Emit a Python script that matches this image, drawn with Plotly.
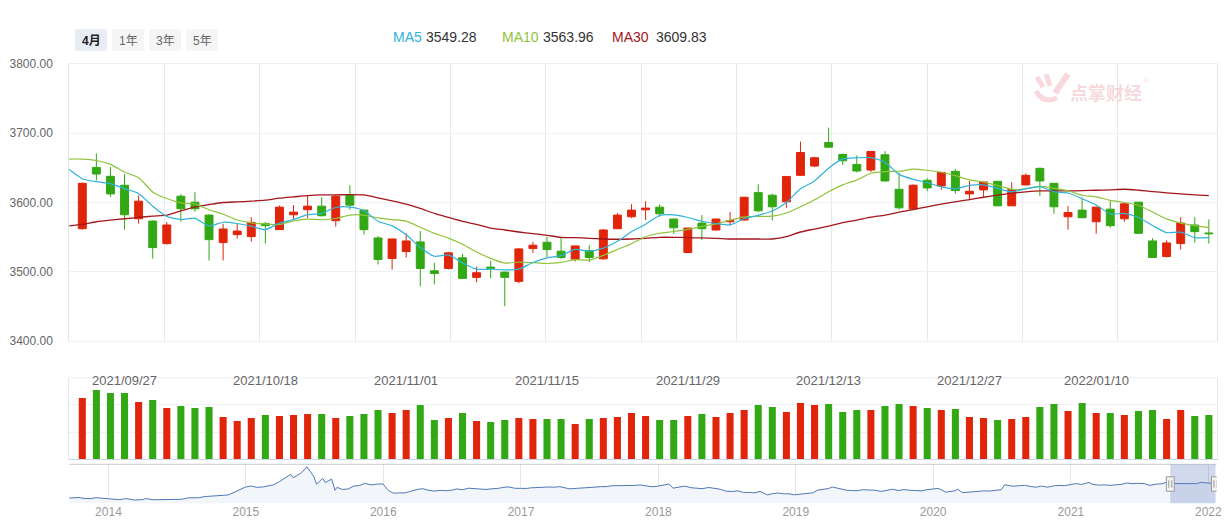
import plotly.graph_objects as go

W, H = 1227, 524

# ---------------- data ----------------
dates = [
    "2021/09/22", "2021/09/23", "2021/09/24", "2021/09/27", "2021/09/28", "2021/09/29", "2021/09/30",
    "2021/10/08", "2021/10/11", "2021/10/12", "2021/10/13", "2021/10/14", "2021/10/15",
    "2021/10/18", "2021/10/19", "2021/10/20", "2021/10/21", "2021/10/22",
    "2021/10/25", "2021/10/26", "2021/10/27", "2021/10/28", "2021/10/29",
    "2021/11/01", "2021/11/02", "2021/11/03", "2021/11/04", "2021/11/05",
    "2021/11/08", "2021/11/09", "2021/11/10", "2021/11/11", "2021/11/12",
    "2021/11/15", "2021/11/16", "2021/11/17", "2021/11/18", "2021/11/19",
    "2021/11/22", "2021/11/23", "2021/11/24", "2021/11/25", "2021/11/26",
    "2021/11/29", "2021/11/30", "2021/12/01", "2021/12/02", "2021/12/03",
    "2021/12/06", "2021/12/07", "2021/12/08", "2021/12/09", "2021/12/10",
    "2021/12/13", "2021/12/14", "2021/12/15", "2021/12/16", "2021/12/17",
    "2021/12/20", "2021/12/21", "2021/12/22", "2021/12/23", "2021/12/24",
    "2021/12/27", "2021/12/28", "2021/12/29", "2021/12/30", "2021/12/31",
    "2022/01/04", "2022/01/05", "2022/01/06", "2022/01/07",
    "2022/01/10", "2022/01/11", "2022/01/12", "2022/01/13", "2022/01/14",
    "2022/01/17", "2022/01/18", "2022/01/19", "2022/01/20",
]

opens = [3562.2, 3650.7, 3637.8, 3624.9, 3576.5, 3573.2, 3540.7, 3609.1, 3600.5, 3581.8,
         3542.1, 3553.6, 3550.7, 3569.8, 3560.8, 3582.3, 3589.5, 3594.7, 3573.7, 3611.0,
         3589.0, 3548.8, 3519.1, 3529.2, 3543.1, 3501.4, 3504.8, 3520.1, 3491.9, 3506.7,
         3499.5, 3486.1, 3533.5, 3542.6, 3529.7, 3518.2, 3530.6, 3518.6, 3562.2, 3579.4,
         3589.5, 3593.3, 3576.1, 3527.7, 3570.3, 3560.3, 3572.2, 3574.6, 3614.3, 3610.5,
         3601.0, 3639.2, 3652.6, 3686.6, 3669.4, 3655.0, 3646.9, 3668.9, 3619.1, 3590.9,
         3632.1, 3623.9, 3645.0, 3612.4, 3618.2, 3630.6, 3595.2, 3625.4, 3649.3, 3627.7,
         3579.4, 3589.0, 3572.2, 3590.4, 3576.5, 3600.5, 3544.5, 3522.0, 3540.7, 3567.5,
         3556.0]
highs = [3628.7, 3670.8, 3651.2, 3641.1, 3610.5, 3574.2, 3571.8, 3612.0, 3614.8, 3582.8,
         3568.9, 3569.8, 3578.9, 3571.8, 3595.7, 3596.2, 3610.5, 3607.7, 3611.5, 3624.9,
         3589.5, 3551.7, 3547.6, 3555.5, 3558.8, 3512.9, 3528.7, 3525.8, 3507.2, 3515.8,
         3499.8, 3534.4, 3543.1, 3550.2, 3549.3, 3537.7, 3538.3, 3561.7, 3584.7, 3597.6,
         3601.9, 3597.6, 3576.5, 3563.6, 3581.8, 3576.5, 3586.1, 3608.1, 3626.3, 3612.9,
         3637.8, 3688.0, 3666.0, 3708.1, 3670.8, 3668.0, 3674.2, 3674.2, 3643.1, 3626.3,
         3634.9, 3644.0, 3648.3, 3631.1, 3630.1, 3630.8, 3629.2, 3642.1, 3650.7, 3628.2,
         3594.7, 3607.2, 3593.8, 3601.9, 3599.5, 3600.8, 3548.3, 3545.4, 3578.9, 3578.9,
         3575.6]
lows = [3560.8, 3632.1, 3608.1, 3560.8, 3569.4, 3519.1, 3539.0, 3572.2, 3586.6, 3516.3,
        3516.3, 3547.8, 3543.5, 3540.7, 3560.3, 3575.6, 3577.5, 3579.9, 3565.1, 3589.5,
        3553.6, 3510.5, 3502.9, 3520.6, 3478.9, 3481.8, 3503.3, 3489.5, 3484.7, 3490.4,
        3450.2, 3483.2, 3527.3, 3521.5, 3518.6, 3514.8, 3513.9, 3517.7, 3561.7, 3577.5,
        3574.6, 3579.4, 3555.0, 3527.3, 3545.9, 3559.3, 3566.5, 3573.7, 3586.1, 3573.7,
        3592.3, 3638.3, 3651.2, 3678.9, 3654.1, 3643.5, 3644.0, 3630.6, 3589.9, 3589.9,
        3616.7, 3618.2, 3612.9, 3603.3, 3607.6, 3594.7, 3594.9, 3624.9, 3609.6, 3583.7,
        3560.8, 3577.5, 3555.0, 3563.6, 3572.2, 3555.0, 3520.1, 3520.6, 3532.0, 3542.1,
        3540.7]
closes = [3627.7, 3641.1, 3612.4, 3582.3, 3601.9, 3534.9, 3567.5, 3590.9, 3590.9, 3546.4,
          3561.7, 3558.8, 3571.3, 3566.5, 3593.3, 3586.1, 3594.7, 3580.9, 3609.1, 3596.2,
          3560.8, 3517.7, 3547.4, 3544.5, 3504.8, 3497.6, 3527.3, 3490.4, 3498.6, 3504.8,
          3491.9, 3533.0, 3538.3, 3532.0, 3520.6, 3537.3, 3520.6, 3560.3, 3581.8, 3589.0,
          3591.9, 3583.7, 3563.6, 3563.1, 3562.2, 3576.1, 3573.7, 3607.6, 3588.0, 3593.8,
          3637.6, 3672.2, 3664.6, 3679.9, 3660.3, 3645.5, 3673.7, 3631.1, 3592.3, 3624.9,
          3621.0, 3643.5, 3617.2, 3616.3, 3629.7, 3595.2, 3618.7, 3639.2, 3631.1, 3593.8,
          3585.6, 3578.0, 3593.3, 3566.5, 3598.1, 3555.5, 3520.6, 3541.6, 3570.3, 3557.9,
          3555.0]

# volume (relative units)
volumes = [61.3, 69.3, 66.3, 66.3, 57.3, 59.3, 51.3, 53.3, 51.3, 52.3,
           42.3, 38.3, 41.3, 44.3, 43.3, 44.3, 45.3, 45.3, 41.3, 43.3,
           45.3, 49.3, 46.3, 49.3, 54.3, 39.3, 41.3, 46.3, 38.3, 37.3,
           39.3, 41.3, 40.3, 40.3, 40.3, 35.3, 40.3, 41.3, 42.3, 46.3,
           43.3, 39.3, 39.3, 43.3, 45.3, 42.3, 46.3, 49.3, 54.3, 52.3,
           47.3, 56.3, 54.3, 55.3, 47.3, 49.3, 49.3, 53.3, 55.3, 53.3,
           51.3, 49.3, 50.3, 42.3, 41.3, 39.3, 40.3, 42.3, 52.3, 55.3,
           48.3, 56.3, 46.3, 46.3, 44.3, 48.3, 49.3, 40.3, 49.3, 43.3,
           44.3]

# moving averages: first value belongs to the session before the first candle
ma_prev_date = "2021/09/17"
ma5 = [3648.8, 3634.4, 3630.1, 3627.3, 3620.1, 3613.1, 3594.5, 3579.8, 3575.5, 3577.2,
       3566.1, 3571.5, 3569.7, 3565.8, 3560.9, 3570.3, 3575.2, 3582.4, 3584.3, 3592.8,
       3593.4, 3588.3, 3572.9, 3566.2, 3553.3, 3535.0, 3522.4, 3524.3, 3512.9, 3503.7,
       3503.7, 3502.6, 3503.7, 3513.3, 3520.0, 3523.2, 3532.2, 3529.8, 3534.2, 3544.1,
       3557.8, 3568.7, 3581.3, 3582.0, 3578.3, 3572.9, 3569.7, 3567.7, 3576.5, 3581.5,
       3587.8, 3600.1, 3619.8, 3631.2, 3649.6, 3662.9, 3664.5, 3664.8, 3658.1, 3640.6,
       3633.5, 3628.6, 3622.6, 3619.8, 3624.6, 3625.5, 3620.4, 3615.4, 3619.8, 3622.8,
       3615.6, 3613.7, 3605.5, 3596.4, 3583.4, 3584.3, 3578.3, 3566.8, 3556.5, 3557.2,
       3549.2, 3549.28]
ma10 = [3662.7, 3662.7, 3660.7, 3655.0, 3644.0, 3635.9, 3615.3, 3605.7, 3599.5, 3597.6,
        3589.6, 3583.0, 3574.8, 3570.7, 3569.1, 3568.2, 3573.3, 3576.1, 3575.1, 3576.9,
        3581.9, 3581.8, 3577.7, 3575.3, 3573.1, 3564.2, 3555.4, 3548.6, 3539.6, 3528.5,
        3519.4, 3512.5, 3514.0, 3513.1, 3511.9, 3513.5, 3517.4, 3516.8, 3523.7, 3532.1,
        3540.5, 3550.5, 3555.6, 3558.1, 3561.2, 3565.4, 3569.2, 3574.5, 3579.3, 3579.9,
        3580.4, 3584.9, 3593.8, 3603.9, 3615.6, 3625.4, 3632.3, 3642.3, 3644.7, 3645.1,
        3648.2, 3646.6, 3643.7, 3638.9, 3632.6, 3629.5, 3624.5, 3619.0, 3619.8, 3623.7,
        3620.6, 3617.0, 3610.5, 3608.1, 3603.1, 3600.0, 3596.0, 3586.2, 3576.4, 3570.3,
        3566.7, 3563.96]
ma30 = [3566.0, 3568.4, 3572.2, 3574.6, 3576.5, 3578.4, 3580.4, 3581.8, 3588.0, 3593.8,
        3597.1, 3600.0, 3600.9, 3601.9, 3603.3, 3606.2, 3608.1, 3610.0, 3611.0, 3611.0,
        3611.5, 3611.0, 3606.7, 3602.4, 3597.6, 3591.4, 3584.2, 3578.4, 3572.7, 3568.4,
        3563.1, 3560.3, 3557.4, 3555.0, 3552.6, 3549.7, 3549.3, 3548.3, 3547.3, 3546.9,
        3547.3, 3548.3, 3549.7, 3549.7, 3549.3, 3548.8, 3548.3, 3547.3, 3547.3, 3547.3,
        3547.3, 3550.7, 3557.4, 3561.7, 3566.0, 3570.8, 3574.6, 3578.9, 3581.8, 3586.1,
        3589.9, 3593.8, 3597.6, 3601.0, 3604.3, 3607.6, 3610.5, 3613.4, 3615.3, 3616.7,
        3616.7, 3616.7, 3617.2, 3617.7, 3618.2, 3619.1, 3617.7, 3615.8, 3613.9, 3612.4,
        3611.0, 3609.83]

vol_label_dates = ["2021/09/27", "2021/10/18", "2021/11/01", "2021/11/15",
                   "2021/11/29", "2021/12/13", "2021/12/27", "2022/01/10"]
price_ticks = [3400, 3500, 3600, 3700, 3800]
range_tabs = ["4月", "1年", "3年", "5年"]
ma_names = ["MA5", "MA10", "MA30"]
watermark_text = "点掌财经"

# navigator (long history of the index)
nav_dates = [
    "2013-09-18", "2013-10-15", "2013-10-31", "2013-11-15", "2013-11-29", "2013-12-16", "2013-12-31",
    "2014-01-15", "2014-01-30", "2014-02-17", "2014-02-28", "2014-03-11", "2014-03-31", "2014-04-10", "2014-04-30",
    "2014-05-15", "2014-05-30", "2014-06-16", "2014-06-30", "2014-07-15", "2014-07-31", "2014-08-15", "2014-08-29",
    "2014-09-15", "2014-09-30", "2014-10-15", "2014-10-31", "2014-11-14", "2014-11-28", "2014-12-09", "2014-12-31",
    "2015-01-15", "2015-01-30", "2015-02-16", "2015-02-27", "2015-03-16", "2015-03-31", "2015-04-15", "2015-04-30",
    "2015-05-07", "2015-05-29", "2015-06-12", "2015-06-30", "2015-07-08", "2015-07-24", "2015-07-31", "2015-08-17",
    "2015-08-26", "2015-08-31", "2015-09-15", "2015-09-30", "2015-10-15", "2015-10-30", "2015-11-13", "2015-11-30",
    "2015-12-15", "2015-12-31",
    "2016-01-15", "2016-01-28", "2016-02-29", "2016-03-15", "2016-03-31", "2016-04-15", "2016-04-29", "2016-05-16",
    "2016-05-31", "2016-06-15", "2016-06-30", "2016-07-15", "2016-07-29", "2016-08-15", "2016-08-31", "2016-09-15",
    "2016-09-30", "2016-10-14", "2016-10-31", "2016-11-15", "2016-11-30", "2016-12-15", "2016-12-30",
    "2017-01-16", "2017-01-26", "2017-02-15", "2017-02-28", "2017-03-15", "2017-03-31", "2017-04-14", "2017-04-28",
    "2017-05-11", "2017-05-31", "2017-06-15", "2017-06-30", "2017-07-14", "2017-07-31", "2017-08-15", "2017-08-31",
    "2017-09-15", "2017-09-29", "2017-10-16", "2017-10-31", "2017-11-14", "2017-11-30", "2017-12-15", "2017-12-29",
    "2018-01-15", "2018-01-29", "2018-02-09", "2018-02-28", "2018-03-12", "2018-03-30", "2018-04-16", "2018-04-27",
    "2018-05-15", "2018-05-31", "2018-06-15", "2018-06-29", "2018-07-16", "2018-07-31", "2018-08-15", "2018-08-31",
    "2018-09-14", "2018-09-28", "2018-10-18", "2018-10-31", "2018-11-15", "2018-11-30", "2018-12-14", "2018-12-28",
    "2019-01-15", "2019-01-31", "2019-02-15", "2019-02-28", "2019-03-15", "2019-03-29", "2019-04-08", "2019-04-30",
    "2019-05-15", "2019-05-31", "2019-06-14", "2019-06-28", "2019-07-15", "2019-07-31", "2019-08-15", "2019-08-30",
    "2019-09-16", "2019-09-30", "2019-10-15", "2019-10-31", "2019-11-15", "2019-11-29", "2019-12-16", "2019-12-31",
    "2020-01-14", "2020-01-23", "2020-02-03", "2020-02-28", "2020-03-06", "2020-03-19", "2020-03-31", "2020-04-15",
    "2020-04-30", "2020-05-15", "2020-05-29", "2020-06-15", "2020-06-30", "2020-07-09", "2020-07-31", "2020-08-14",
    "2020-08-31", "2020-09-15", "2020-09-30", "2020-10-15", "2020-10-30", "2020-11-16", "2020-11-30", "2020-12-15",
    "2020-12-31",
    "2021-01-15", "2021-01-29", "2021-02-18", "2021-02-26", "2021-03-15", "2021-03-31", "2021-04-15", "2021-04-30",
    "2021-05-14", "2021-05-31", "2021-06-15", "2021-06-30", "2021-07-15", "2021-07-30", "2021-08-16", "2021-08-31",
    "2021-09-13", "2021-09-30", "2021-10-15", "2021-10-29", "2021-11-15", "2021-11-30", "2021-12-13", "2021-12-31",
    "2022-01-10", "2022-01-20",
]
nav_values = [
    2191, 2233, 2141, 2135, 2220, 2161, 2116,
    2023, 2033, 2135, 2056, 1999, 2033, 2134, 2026, 2025, 2039, 2066, 2048, 2067, 2202, 2226, 2217,
    2331, 2364, 2373, 2420, 2478, 2683, 2856, 3235,
    3336, 3210, 3247, 3310, 3449, 3748, 4084, 4442, 4112, 4612, 5166, 4277, 3507, 4070, 3664, 3994,
    2927, 3206, 3005, 3053, 3338, 3383, 3580, 3445, 3510, 3539,
    2900, 2656, 2688, 2864, 3004, 3078, 2938, 2850, 2917, 2887, 2930, 3054, 2979, 3125, 3085, 3002,
    3005, 3064, 3100, 3207, 3250, 3118, 3104,
    3103, 3159, 3213, 3242, 3241, 3223, 3276, 3155, 3062, 3117, 3132, 3192, 3222, 3273, 3276, 3361,
    3353, 3349, 3378, 3393, 3430, 3317, 3266, 3307,
    3410, 3523, 3129, 3259, 3326, 3169, 3111, 3082, 3192, 3095, 3022, 2847, 2814, 2876, 2723, 2725,
    2682, 2821, 2486, 2603, 2668, 2588, 2594, 2494,
    2570, 2585, 2682, 2941, 3021, 3091, 3244, 3078, 2939, 2899, 2882, 2979, 2942, 2932, 2815, 2886,
    3031, 2905, 2991, 2929, 2891, 2872, 2984, 3050,
    3106, 2976, 2746, 2880, 3034, 2702, 2750, 2811, 2860, 2868, 2852, 2891, 2985, 3451, 3310, 3360,
    3396, 3295, 3218, 3332, 3225, 3347, 3392, 3367, 3473,
    3566, 3483, 3675, 3509, 3419, 3442, 3399, 3447, 3490, 3615, 3557, 3591, 3565, 3397, 3517, 3544,
    3715, 3568, 3572, 3547, 3533, 3564, 3681, 3640, 3594, 3555,
]

assert len(opens) == len(highs) == len(lows) == len(closes) == len(volumes) == len(dates)
assert len(ma5) == len(ma10) == len(ma30) == len(dates) + 1
assert len(nav_dates) == len(nav_values)

# ---------------- styling ----------------
RED = "#e0250b"
GREEN = "#32a814"
C_MA5 = "#2fb3d9"
C_MA10 = "#8fc43a"
C_MA30 = "#a3161c"
FONT = "Liberation Sans, Arial, Noto Sans CJK SC, sans-serif"


def fx(x):
    return x / W


def fy(y):
    return 1 - y / H


X_DOM = [fx(69.3), fx(1216.6)]
idx = list(range(len(dates)))
ma_idx = [-1] + idx
x_range = [-0.923, 80.55]
grid_step = 6.768
grid_vals = [x_range[0] + grid_step * k for k in range(12)]
vol_colors = [RED if c >= o else GREEN for o, c in zip(opens, closes)]
iso = lambda d: d.replace("/", "-")

fig = go.Figure()

fig.add_trace(go.Candlestick(
    x=idx, open=opens, high=highs, low=lows, close=closes,
    increasing=dict(line=dict(color=RED, width=1), fillcolor=RED),
    decreasing=dict(line=dict(color=GREEN, width=1), fillcolor=GREEN),
    whiskerwidth=0, xaxis="x", yaxis="y", hoverinfo="skip", name="K",
))
for name, vals, col, w in [("MA30", ma30, C_MA30, 1.3), ("MA10", ma10, C_MA10, 1.2), ("MA5", ma5, C_MA5, 1.2)]:
    fig.add_trace(go.Scatter(
        x=ma_idx, y=vals, mode="lines", name=name,
        line=dict(color=col, width=w, shape="spline", smoothing=0.6),
        xaxis="x", yaxis="y", hoverinfo="skip",
    ))

fig.add_trace(go.Bar(
    x=idx, y=volumes, marker=dict(color=vol_colors, line=dict(width=0)),
    width=0.5, xaxis="x2", yaxis="y2", hoverinfo="skip", name="VOL",
))

fig.add_trace(go.Scatter(
    x=nav_dates, y=nav_values, mode="lines", fill="tozeroy",
    fillcolor="#f2f5fa", line=dict(color="#4f78b5", width=1),
    xaxis="x3", yaxis="y3", hoverinfo="skip", name="nav",
))

fig.update_layout(
    template="none",
    width=W, height=H, margin=dict(l=0, r=0, t=0, b=0, pad=0), autosize=False,
    paper_bgcolor="white", plot_bgcolor="white", showlegend=False,
    font=dict(family=FONT, color="#666"),
    boxgap=0.25, boxgroupgap=0.25, bargap=0.5,
    xaxis=dict(domain=X_DOM, anchor="y", range=x_range, rangeslider=dict(visible=False),
               tickvals=grid_vals, showgrid=True, gridcolor="#e4e9f0", gridwidth=1,
               showticklabels=False, ticks="", zeroline=False, automargin=False,
               showline=True, mirror=True, linecolor="#edf0f5"),
    yaxis=dict(domain=[fy(341), fy(64)], anchor="x", range=[3400, 3800],
               tickvals=price_ticks, tickformat=".2f", ticks="", ticklen=0,
               ticklabelstandoff=13, tickfont=dict(size=12, color="#666"),
               showgrid=True, gridcolor="#eef1f6", zeroline=False, automargin=False,
               showline=True, mirror=True, linecolor="#dfe5ee"),
    xaxis2=dict(domain=X_DOM, anchor="y2", range=x_range, showticklabels=False, showgrid=False,
                ticks="", zeroline=False, showline=True, linecolor="#ccd6eb", automargin=False),
    yaxis2=dict(domain=[fy(459.3), fy(377.7)], anchor="x2", range=[0, 81.6], tick0=0, dtick=27.2,
                showticklabels=False, ticks="", showgrid=True, gridcolor="#eef1f6", zeroline=False,
                showline=True, mirror=True, linecolor="#e3e8ef", automargin=False),
    xaxis3=dict(domain=X_DOM, anchor="y3", type="date", range=["2013-09-19", "2022-01-23"],
                tick0="2014-01-01", dtick="M12", tickformat="%Y", ticks="", ticklen=0,
                ticklabelstandoff=0, tickfont=dict(size=12, color="#999"),
                showgrid=True, gridcolor="#e6e6e6", zeroline=False, showline=False, automargin=False),
    yaxis3=dict(domain=[fy(503.3), fy(464.3)], anchor="x3", range=[1685, 5406],
                showticklabels=False, showgrid=False, zeroline=False, ticks="", automargin=False),
)

shapes = []
annotations = []

# volume top border
shapes.append(dict(type="line", xref="x2 domain", yref="y2 domain", x0=0, x1=1, y0=1, y1=1,
                   line=dict(color="#edf0f5", width=1)))
# navigator top border
shapes.append(dict(type="line", xref="x3 domain", yref="y3 domain", x0=0, x1=1, y0=1, y1=1,
                   line=dict(color="#cccccc", width=1)))
# navigator selected window
shapes.append(dict(type="rect", xref="x3", yref="y3 domain", x0=iso(dates[0]), x1=iso(dates[-1]),
                   y0=0, y1=1, fillcolor="rgba(102,133,194,0.3)", line=dict(width=0), layer="above"))
for d in (dates[0], dates[-1]):
    shapes.append(dict(type="rect", xref="x3", xsizemode="pixel", xanchor=iso(d), x0=-4, x1=4,
                       yref="y3 domain", y0=0.31, y1=0.68, fillcolor="#f2f2f2",
                       line=dict(color="#999999", width=1), layer="above"))
    for off in (-1.5, 1.5):
        shapes.append(dict(type="line", xref="x3", xsizemode="pixel", xanchor=iso(d), x0=off, x1=off,
                           yref="y3 domain", y0=0.40, y1=0.59,
                           line=dict(color="#999999", width=1), layer="above"))

# date labels above the volume bars
for d in vol_label_dates:
    annotations.append(dict(x=dates.index(d), xref="x2", y=fy(380.5), yref="paper",
                            text=d, showarrow=False, xanchor="center", yanchor="middle",
                            font=dict(size=13, color="#666", family=FONT)))


def rounded_rect(x0, y0, x1, y1, r):
    p = (f"M {fx(x0 + r)},{fy(y0)} L {fx(x1 - r)},{fy(y0)} Q {fx(x1)},{fy(y0)} {fx(x1)},{fy(y0 + r)} "
         f"L {fx(x1)},{fy(y1 - r)} Q {fx(x1)},{fy(y1)} {fx(x1 - r)},{fy(y1)} "
         f"L {fx(x0 + r)},{fy(y1)} Q {fx(x0)},{fy(y1)} {fx(x0)},{fy(y1 - r)} "
         f"L {fx(x0)},{fy(y0 + r)} Q {fx(x0)},{fy(y0)} {fx(x0 + r)},{fy(y0)} Z")
    return p


# range tabs
tab_left = [75, 112, 149, 186]
for i, (lab, xl) in enumerate(zip(range_tabs, tab_left)):
    sel = i == 0
    shapes.append(dict(type="path", xref="paper", yref="paper", path=rounded_rect(xl, 29, xl + 32, 51, 3),
                       fillcolor="#e8ecf5" if sel else "#f5f5f6", line=dict(width=0)))
    annotations.append(dict(x=fx(xl + 16), y=fy(40.5), xref="paper", yref="paper", showarrow=False,
                            text=f"<b>{lab}</b>" if sel else lab, xanchor="center", yanchor="middle",
                            font=dict(size=12, color="#222" if sel else "#666", family=FONT)))

# MA legend
ma_pos = [(390.5, 424.3), (500.0, 540.7), (610.0, 653.7)]
for name, vals, col, (xn, xv) in zip(ma_names, [ma5, ma10, ma30], [C_MA5, C_MA10, C_MA30], ma_pos):
    annotations.append(dict(x=fx(xn), y=fy(37), xref="paper", yref="paper", showarrow=False, text=name,
                            xanchor="left", yanchor="middle", font=dict(size=14, color=col, family=FONT)))
    annotations.append(dict(x=fx(xv), y=fy(37), xref="paper", yref="paper", showarrow=False,
                            text=f"{vals[-1]:.2f}", xanchor="left", yanchor="middle",
                            font=dict(size=14, color="#333", family=FONT)))

# watermark
WM = "rgba(226,120,132,0.28)"
for (a, b, c, d, w) in [(1037, 77, 1043, 87, 5), (1046, 74, 1050, 86, 5), (1055, 93, 1068, 74, 6)]:
    shapes.append(dict(type="line", xref="paper", yref="paper", x0=fx(a), y0=fy(b), x1=fx(c), y1=fy(d),
                       line=dict(color=WM, width=w)))
shapes.append(dict(type="path", xref="paper", yref="paper",
                   path=f"M {fx(1036)},{fy(91)} Q {fx(1043)},{fy(104)} {fx(1057)},{fy(98)}",
                   line=dict(color=WM, width=5)))
annotations.append(dict(x=fx(1106), y=fy(92), xref="paper", yref="paper", showarrow=False,
                        text=f"<b>{watermark_text}</b>", xanchor="center", yanchor="middle",
                        font=dict(size=18, color=WM, family="Noto Sans CJK SC")))
annotations.append(dict(x=fx(1146), y=fy(80), xref="paper", yref="paper", showarrow=False,
                        text="®", xanchor="center", yanchor="middle",
                        font=dict(size=8, color=WM, family=FONT)))

fig.update_layout(shapes=shapes, annotations=annotations)

fig.write_html("out.html", config={"displayModeBar": False},
               post_script="document.body.style.margin='0';document.body.style.overflow='hidden';")
